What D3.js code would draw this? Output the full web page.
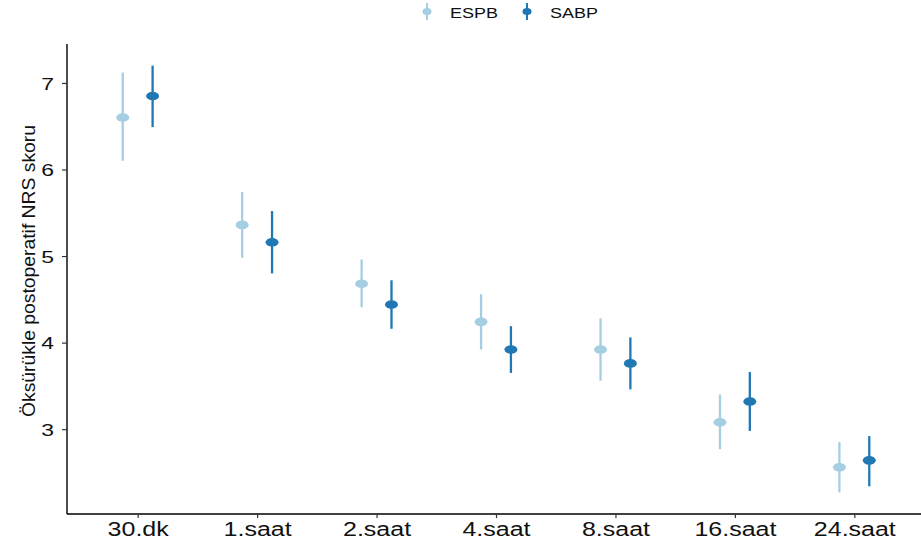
<!DOCTYPE html>
<html>
<head>
<meta charset="utf-8">
<script src="https://cdn.jsdelivr.net/npm/d3@7"></script>
<style>
  body { margin: 0; background: #fff; }
  svg { display: block; font-family: "Liberation Sans", Arial, sans-serif; }
</style>
</head>
<body>
<script>
const categories = ['30.dk', '1.saat', '2.saat', '4.saat', '8.saat', '16.saat', '24.saat']
const groups = ['ESPB', 'SABP']

const espbMean = [6.60, 5.36, 4.68, 4.24, 3.92, 3.08, 2.56]
const espbLow = [6.10, 4.98, 4.41, 3.92, 3.56, 2.77, 2.27]
const espbHigh = [7.12, 5.74, 4.96, 4.56, 4.28, 3.40, 2.85]

const sabpMean = [6.85, 5.16, 4.44, 3.92, 3.76, 3.32, 2.64]
const sabpLow = [6.49, 4.80, 4.16, 3.65, 3.46, 2.98, 2.34]
const sabpHigh = [7.20, 5.52, 4.72, 4.19, 4.06, 3.66, 2.92]

const yTicks = [3, 4, 5, 6, 7]
const yTitle = 'Öksürükle postoperatif NRS skoru'

const WIDTH = 921
const HEIGHT = 548
const LEFT = 67
const BOTTOM = 514
const TOP = 44
const COLORS = { ESPB: '#a6cee3', SABP: '#1f78b4' }

const rows = []
categories.forEach((c, i) => {
  rows.push({ cat: c, group: 'ESPB', mean: espbMean[i], low: espbLow[i], high: espbHigh[i] })
  rows.push({ cat: c, group: 'SABP', mean: sabpMean[i], low: sabpLow[i], high: sabpHigh[i] })
})

const svg = d3.select('body').append('svg')
  .attr('width', WIDTH)
  .attr('height', HEIGHT)

const x = d3.scalePoint()
  .domain(categories)
  .range([LEFT - 1, 926])
  .padding(0.6)

const dodge = d3.scalePoint()
  .domain(groups)
  .range([-x.step() * 0.125, x.step() * 0.125])

const y = d3.scaleLinear()
  .domain([2.02, 7.45])
  .range([BOTTOM, TOP])

// axes
const bottomAxis = svg.append('g')
  .attr('transform', `translate(0, ${BOTTOM})`)
  .call(d3.axisBottom(x).tickSize(4).tickSizeOuter(0))

bottomAxis.select('.domain').attr('d', `M${LEFT},0H${WIDTH}`).attr('stroke-width', 1.4)
bottomAxis.selectAll('.tick line').attr('stroke', '#333').attr('stroke-width', 1.2)
bottomAxis.selectAll('.tick text')
  .attr('y', 0)
  .attr('dy', 0)
  .attr('transform', 'translate(0, 21.5) scale(1.25, 1)')
  .attr('font-size', 20)
  .attr('fill', '#111')
  .attr('font-family', '"Liberation Sans", Arial, sans-serif')

const leftAxis = svg.append('g')
  .attr('transform', `translate(${LEFT}, 0)`)
  .call(d3.axisLeft(y).tickValues(yTicks).tickFormat(d3.format('d')).tickSize(5).tickSizeOuter(0))

leftAxis.select('.domain').attr('d', `M0,${TOP}V${BOTTOM}`).attr('stroke-width', 1.4)
leftAxis.selectAll('.tick line').attr('stroke', '#333').attr('stroke-width', 1.2)
leftAxis.selectAll('.tick text')
  .attr('x', 0)
  .attr('dy', '0.36em')
  .attr('transform', 'translate(-13, 0) scale(1.35, 1)')
  .attr('font-size', 17)
  .attr('fill', '#111')
  .attr('font-family', '"Liberation Sans", Arial, sans-serif')

svg.append('text')
  .attr('transform', `translate(35, ${(TOP + BOTTOM) / 2 - 8}) rotate(-90)`)
  .attr('text-anchor', 'middle')
  .attr('font-size', 18.5)
  .attr('textLength', 292)
  .attr('lengthAdjust', 'spacingAndGlyphs')
  .attr('fill', '#111')
  .text(yTitle)

// error bars and points
const marks = svg.append('g')
  .selectAll('g')
  .data(rows)
  .enter()
  .append('g')
  .attr('transform', d => `translate(${x(d.cat) + dodge(d.group)}, 0)`)

marks.append('line')
  .attr('y1', d => y(d.low))
  .attr('y2', d => y(d.high))
  .attr('stroke', d => COLORS[d.group])
  .attr('stroke-width', 2.3)

marks.append('ellipse')
  .attr('cy', d => y(d.mean))
  .attr('rx', 6.5)
  .attr('ry', 4.3)
  .attr('fill', d => COLORS[d.group])

// legend
const legendX = [427, 527]
const legend = svg.append('g')
  .selectAll('g')
  .data(groups)
  .enter()
  .append('g')
  .attr('transform', (d, i) => `translate(${legendX[i]}, 11.5)`)

legend.append('line')
  .attr('y1', -8.5)
  .attr('y2', 8.5)
  .attr('stroke', d => COLORS[d])
  .attr('stroke-width', 2)

legend.append('ellipse')
  .attr('rx', 4.5)
  .attr('ry', 3.5)
  .attr('fill', d => COLORS[d])

legend.append('text')
  .attr('transform', 'translate(23, 6) scale(1.2, 1)')
  .attr('font-size', 15)
  .attr('fill', '#111')
  .text(d => d)
</script>
</body>
</html>
